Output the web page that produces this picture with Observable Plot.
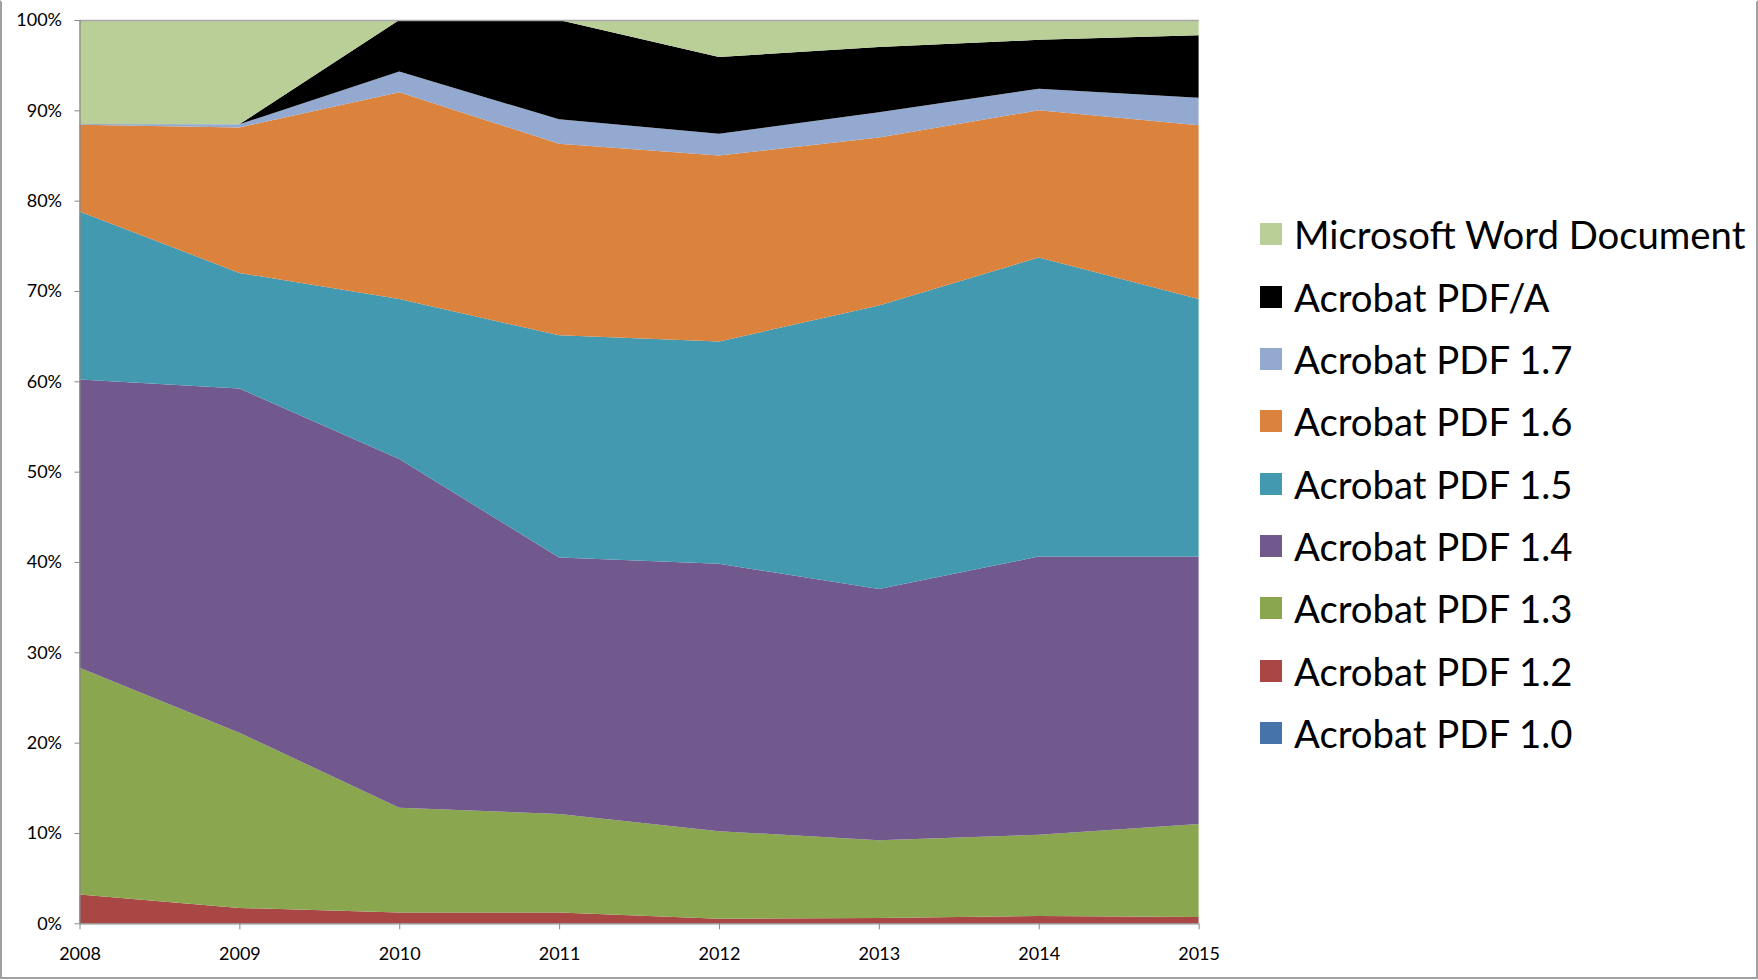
<!DOCTYPE html>
<html>
<head>
<meta charset="utf-8">
<script src="https://cdn.jsdelivr.net/npm/d3@7"></script>
<script src="https://cdn.jsdelivr.net/npm/@observablehq/plot@0.6"></script>
<style>
  html, body { margin: 0; padding: 0; background: #fff; }
  #frame { position: absolute; left: 0; top: 0; width: 1754px; height: 975px; border: 2px solid #a0a0a0; border-top-color: #ffffff; background: #fff; overflow: hidden; font-family: Lato, "Open Sans", sans-serif; }
  #chart { position: absolute; left: 0; top: 0; }
  #legend { position: absolute; left: 1258px; top: 0; }
  .item { position: absolute; left: 0; display: flex; align-items: center; white-space: nowrap; height: 40px; }
  .sw { width: 22px; height: 22px; margin-right: 12px; }
  .lab { font-size: 38.3px; color: #000; line-height: 40px; }
</style>
</head>
<body>
<div id="frame"><div id="chart"></div><div id="legend"></div></div>
<script>
// Years on the x axis
const years = [2008, 2009, 2010, 2011, 2012, 2013, 2014, 2015];

// Share of each format per year (%)
const pdf10  = [0.0, 0.0, 0.0, 0.0, 0.0, 0.0, 0.0, 0.0];
const pdf12  = [3.2, 1.7, 1.2, 1.2, 0.5, 0.6, 0.8, 0.7];
const pdf13  = [25.1, 19.4, 11.6, 10.9, 9.7, 8.6, 9.0, 10.3];
const pdf14  = [31.9, 38.1, 38.6, 28.4, 29.6, 27.8, 30.8, 29.6];
const pdf15  = [18.6, 12.8, 17.7, 24.6, 24.6, 31.4, 33.1, 28.5];
const pdf16  = [9.6, 16.1, 22.9, 21.2, 20.6, 18.6, 16.3, 19.25];
const pdf17  = [0.1, 0.35, 2.3, 2.7, 2.4, 2.8, 2.4, 3.05];
const pdfA   = [0.0, 0.0, 5.7, 11.0, 8.5, 7.2, 5.4, 6.9];
const word   = [11.5, 11.55, 0.0, 0.0, 4.1, 3.0, 2.2, 1.7];

// Series names, bottom of the stack first
const seriesNames = ["Acrobat PDF 1.0", "Acrobat PDF 1.2", "Acrobat PDF 1.3", "Acrobat PDF 1.4",
  "Acrobat PDF 1.5", "Acrobat PDF 1.6", "Acrobat PDF 1.7", "Acrobat PDF/A", "Microsoft Word Document"];
const seriesValues = [pdf10, pdf12, pdf13, pdf14, pdf15, pdf16, pdf17, pdfA, word];
const seriesColors = ["#4674AA", "#A94745", "#8AA64F", "#71598E", "#4299B0", "#DB823D", "#93A9CF", "#000000", "#BACE98"];

// Y tick values (%)
const yTicks = [0, 10, 20, 30, 40, 50, 60, 70, 80, 90, 100];

const data = [];
seriesNames.forEach((name, i) => {
  years.forEach((yr, j) => data.push({year: yr, series: name, value: seriesValues[i][j]}));
});

const axisGray = "#868686";

const chart = Plot.plot({
  width: 1230,
  height: 975,
  marginTop: 18,
  marginBottom: 53.7,
  marginLeft: 77.5,
  marginRight: 33.4,
  style: {fontFamily: "Lato, 'Open Sans', sans-serif", fontSize: "18px", color: "#000", background: "transparent"},
  x: {domain: [2008, 2015], ticks: years, tickFormat: d => String(d)},
  y: {domain: [0, 100], ticks: yTicks},
  color: {domain: seriesNames, range: seriesColors},
  marks: [
    Plot.areaY(data, {x: "year", y: "value", z: "series", fill: "series", order: seriesNames}),
    Plot.ruleY([100], {stroke: "#a8a8a8", strokeWidth: 1.5}),
    Plot.ruleX([2008], {stroke: axisGray, strokeWidth: 1.2}),
    Plot.ruleY([0], {stroke: axisGray, strokeWidth: 1.2}),
    Plot.axisY({ticks: yTicks, tickFormat: d => d + "%", tickSize: 5, tickPadding: 13, stroke: axisGray, label: null, fill: "#000"}),
    Plot.axisX({ticks: years, tickFormat: d => String(d), tickSize: 6, tickPadding: 17, stroke: axisGray, label: null, fill: "#000"})
  ]
});
document.getElementById("chart").appendChild(chart);

// Legend: top of list is top of stack
const legend = document.getElementById("legend");
const legendOrder = seriesNames.slice().reverse();
const legendColors = seriesColors.slice().reverse();
legendOrder.forEach((name, i) => {
  const it = document.createElement("div");
  it.className = "item";
  it.style.top = (232.4 - 20 + i * 62.3) + "px";
  const sw = document.createElement("div");
  sw.className = "sw";
  sw.style.background = legendColors[i];
  const lab = document.createElement("span");
  lab.className = "lab";
  lab.textContent = name;
  it.appendChild(sw); it.appendChild(lab);
  legend.appendChild(it);
});
</script>
</body>
</html>
